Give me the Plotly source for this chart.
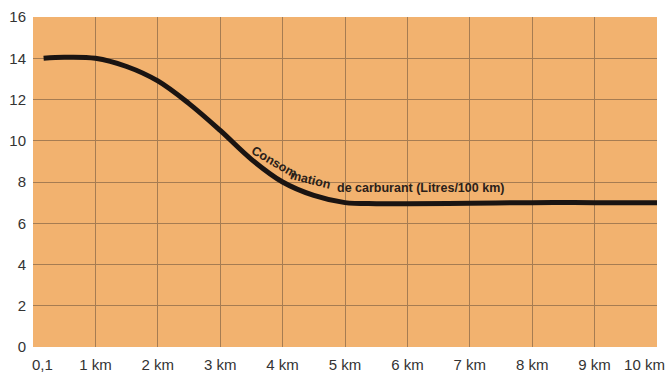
import plotly.graph_objects as go

# Fuel consumption versus trip distance
distance_km = [0.17, 0.5, 1.0, 1.5, 2.0, 2.5, 3.0, 3.5, 4.0, 4.5, 5.0, 5.5, 6.0, 7.0, 8.0, 9.0, 10.0]
litres_per_100km = [14.0, 14.05, 14.0, 13.6, 12.9, 11.8, 10.5, 9.1, 8.0, 7.35, 7.0, 6.95, 6.95, 6.97, 7.0, 7.0, 7.0]

x_tick_vals = [0.15, 1, 2, 3, 4, 5, 6, 7, 8, 9, 9.8]
x_tick_text = ["0,1", "1 km", "2 km", "3 km", "4 km", "5 km", "6 km", "7 km", "8 km", "9 km", "10 km"]
x_grid_vals = [0, 1, 2, 3, 4, 5, 6, 7, 8, 9, 10]
y_tick_vals = [0, 2, 4, 6, 8, 10, 12, 14, 16]

GRID = "#a67c52"
BG = "#f2b26f"
TICK_FONT = dict(family="Liberation Sans, Arial", size=15, color="#333333")

fig = go.Figure()
fig.add_trace(go.Scatter(
    x=distance_km, y=litres_per_100km, mode="lines",
    line=dict(color="#1a1412", width=5, shape="spline", smoothing=1.0),
    hoverinfo="skip", showlegend=False,
))

# Curve label, bent along the line in pieces: (text, x, y, angle, size)
label_color = "#2a2019"
pieces = [
    ("Consom", 3.86, 8.95, 30, 12.5),
    ("mation", 4.45, 8.12, 14, 12.5),
    ("de carburant (Litres/100 km)", 6.21, 7.71, 0, 12.5),
]
for txt, xv, yv, ang, sz in pieces:
    fig.add_annotation(x=xv, y=yv, text="<b>" + txt + "</b>", showarrow=False,
                       textangle=ang, xanchor="center", yanchor="middle",
                       font=dict(family="Liberation Sans, Arial", size=sz, color=label_color))

fig.update_layout(
    width=670, height=377,
    margin=dict(l=33, r=13, t=17, b=30, autoexpand=False),
    paper_bgcolor="white", plot_bgcolor=BG,
    font=dict(family="Liberation Sans, Arial", size=13, color="#333333"),
)
fig.update_xaxes(
    range=[0, 10], tickmode="array", tickvals=x_tick_vals, ticktext=x_tick_text,
    showgrid=False, zeroline=False, showline=False, ticks="", automargin=False,
    tickfont=TICK_FONT, ticklabelstandoff=7,
    minor=dict(tickmode="array", tickvals=x_grid_vals, showgrid=True, gridcolor=GRID, gridwidth=1),
)
fig.update_yaxes(
    range=[0, 16], tickmode="array", tickvals=y_tick_vals, automargin=False,
    showgrid=True, gridcolor=GRID, gridwidth=1, zeroline=False, showline=False, ticks="",
    tickfont=TICK_FONT, ticklabelstandoff=6,
)

fig.write_html("out.html")
